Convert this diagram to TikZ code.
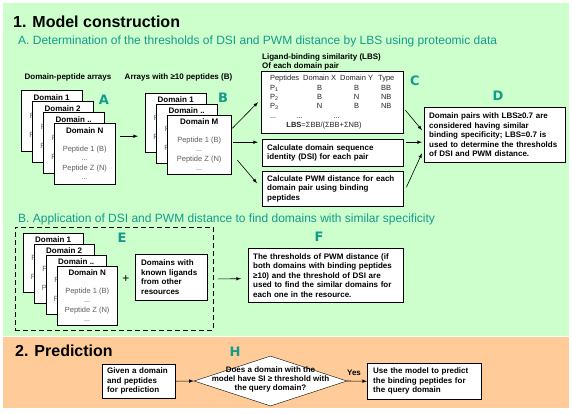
\documentclass[tikz,border=0pt]{standalone}
\usepackage{fontspec}
\setmainfont{Liberation Sans}
\newfontfamily\lblfont{DejaVu Sans}
\usetikzlibrary{shapes.geometric, shadows, calc}
\definecolor{bggreen}{RGB}{204,255,204}
\definecolor{bgorange}{RGB}{255,204,153}
\definecolor{tealtxt}{RGB}{20,155,140}
\definecolor{pepgray}{RGB}{95,95,95}
\newcommand{\domcard}[1]{{\color{black}\fontsize{8}{9.5}\selectfont\bfseries #1}\\[8pt]Peptide 1 (B)\\...\\Peptide Z (N)\\...}

\begin{document}
\begin{tikzpicture}[x=1pt,y=-1pt]
\tikzstyle{crd}=[draw, fill=white, anchor=north west, inner sep=0pt, align=center,
                 text=pepgray, font=\fontsize{7.5}{9.5}\selectfont]
\tikzstyle{tbox}=[draw, fill=white, anchor=north west, inner xsep=5pt, inner ysep=0pt, align=left,
                  font=\fontsize{8}{9.5}\selectfont\bfseries,
                  drop shadow={shadow xshift=1pt, shadow yshift=-1pt, fill=black!45, opacity=1}]
\tikzstyle{ltr}=[inner sep=0pt, text=tealtxt, font=\lblfont\fontsize{13}{13}\selectfont\bfseries]
\tikzstyle{ttl}=[anchor=base west, inner sep=0pt, font=\fontsize{16}{18}\selectfont\bfseries]
\tikzstyle{sub}=[anchor=base west, inner sep=0pt, text=tealtxt, font=\fontsize{12}{14}\selectfont]
\tikzstyle{hdr}=[inner sep=1pt, font=\fontsize{8}{9}\selectfont\bfseries]
\tikzstyle{arr}=[-latex, line width=0.6pt]
\useasboundingbox (0,0) rectangle (572,413);
% backgrounds
\fill[bggreen] (2.5,2.5) rectangle (569,336);
\fill[bgorange] (2.5,337) rectangle (569,408);
% 1. model construction
\node[ttl] (t1) at (13,27) {1. Model construction};
\node[sub] (ta) at (18,44) {A. Determination of the thresholds of DSI and PWM distance by LBS using proteomic data};
\node[hdr] (ahd) at (68,77) {Domain-peptide arrays};
\node[hdr] (bhd) at (178.5,77) {Arrays with ≥10 peptides (B)};
	\node[crd, minimum width=61pt, minimum height=61pt] (a1) at (21,90) {\domcard{Domain 1}};
	\node[crd, minimum width=61pt, minimum height=61pt] (a2) at (32,101) {\domcard{Domain 2}};
	\node[crd, minimum width=61pt, minimum height=61pt] (a3) at (43,112) {\domcard{Domain ..}};
	\node[crd, minimum width=61pt, minimum height=61pt] (a4) at (54,123) {\domcard{Domain N}};
	\node[crd, minimum width=61pt, minimum height=59pt] (b1) at (145,93) {\domcard{Domain 1}};
	\node[crd, minimum width=61pt, minimum height=59pt] (b2) at (156,104) {\domcard{Domain ..}};
	\node[crd, minimum width=64pt, minimum height=59pt] (b3) at (167,115) {\domcard{Domain M}};
\node[ltr] (la) at (104,100) {A};
\node[ltr] (lb) at (223,98) {B};
\node[hdr, anchor=west, align=left] (lbst) at (261,61.5) {Ligand-binding similarity (LBS)\\Of each domain pair};
\node[tbox, inner xsep=2pt, minimum width=142pt, minimum height=62pt, text=black!85,
      font=\fontsize{7.5}{9.3}\selectfont] (lbs) at (261,71) {%
\begin{tabular}{@{}l@{\hspace{4pt}}c@{\hspace{4pt}}c@{\hspace{5pt}}c@{}}
Peptides & Domain X & Domain Y & Type\\
P\textsubscript{1} & B & B & BB\\
P\textsubscript{2} & B & N & NB\\
P\textsubscript{3} & N & B & NB\\
\multicolumn{4}{@{}l}{...\hspace{20pt}...\hspace{31pt}...}\\
\multicolumn{3}{c}{\textbf{LBS}=ΣBB/(ΣBB+ΣNB)} & \\
\end{tabular}};
\node[tbox, text width=131pt, minimum height=27pt] (dsi) at (262,139) {Calculate domain sequence\\identity (DSI) for each pair};
\node[tbox, text width=131pt, minimum height=35pt] (pwm) at (262,171) {Calculate PWM distance for each\\domain pair using binding\\peptides};
\node[tbox, text width=131pt, minimum height=55pt] (dbx) at (424,107) {Domain pairs with LBS≥0.7 are\\considered having similar\\binding specificity; LBS=0.7 is\\used to determine the thresholds\\of DSI and PWM distance.};
\node[ltr] (lc) at (415,81) {C};
\node[ltr] (ld) at (498,96) {D};
\draw[arr] ($(a4.east)+(5,-17.5)$)--($(b1.west)+(-7,13.5)$);
\draw[arr] ($(b3.east)+(1,-16.5)$)--($(lbs.west)+(-3,0)$);
\draw[arr] ($(b3.east)+(2,-2.5)$)--($(dsi.west)+(-4,-10.5)$);
\draw[arr] ($(b3.east)+(6,15.5)$)--($(pwm.west)+(-5,-5.5)$);
\draw[arr] ($(lbs.east)+(2,8)$)--($(dbx.west)+(-2,-4.5)$);
\draw[arr] ($(dsi.east)+(3,-10.5)$)--($(dbx.west)+(-2,7.5)$);
\draw[arr] ($(pwm.east)+(3,-1.5)$)--($(dbx.west)+(-2,18.5)$);
% B. application
\node[sub] (tb) at (18,222) {B. Application of DSI and PWM distance to find domains with similar specificity};
\node[draw, line width=0.8pt, dash pattern=on 5pt off 3pt, anchor=north west, inner sep=0pt,
      minimum width=198pt, minimum height=103pt] (ebox) at (15,227) {};
	\node[crd, minimum width=60pt, minimum height=59pt] (e1) at (23,233) {\domcard{Domain 1}};
	\node[crd, minimum width=60pt, minimum height=59pt] (e2) at (34,244) {\domcard{Domain 2}};
	\node[crd, minimum width=60pt, minimum height=59pt] (e3) at (46,255) {\domcard{Domain ..}};
	\node[crd, minimum width=60pt, minimum height=59pt] (e4) at (57,266) {\domcard{Domain N}};
\node[ltr] (le) at (122,238) {E};
\node[inner sep=0pt, font=\fontsize{12}{12}\selectfont] (plus) at (126,279) {+};
\node[tbox, inner xsep=6pt, text width=60pt, minimum height=46pt] (known) at (135,254) {Domains with\\known ligands\\from other\\resources};
\node[tbox, text width=145pt, minimum height=54pt] (fbx) at (248,248) {The thresholds of PWM distance (if\\both domains with binding peptides\\≥10) and the threshold of DSI are\\used to find the similar domains for\\each one in the resource.};
\node[ltr] (lf) at (319,237) {F};
\draw[arr] ($(ebox.east)+(4,0)$)--($(fbx.west)+(-7,3.5)$);
% 2. prediction
\node[ttl] (t2) at (15,356) {2. Prediction};
\node[tbox, text width=63pt, minimum height=34pt] (given) at (102,364) {Given a domain\\and peptides\\for prediction};
\node[draw, fill=white, shape=diamond, inner sep=0pt, minimum width=153pt, minimum height=50pt] (q) at (270.5,381) {};
\node[hdr, align=center] (qt) at ($(q.center)+(0,-2)$) {Does a domain with the\\model have SI ≥ threshold with\\the query domain?};
\node[tbox, inner xsep=6pt, text width=102pt, minimum height=36pt] (use) at (367,363) {Use the model to predict\\the binding peptides for\\the query domain};
\node[ltr] (lh) at (235,352) {H};
\node[hdr] (yes) at (354,373) {Yes};
\draw[arr] (given.east)--(q.west);
\draw[arr] (q.east)--(use.west);
\end{tikzpicture}
\end{document}
